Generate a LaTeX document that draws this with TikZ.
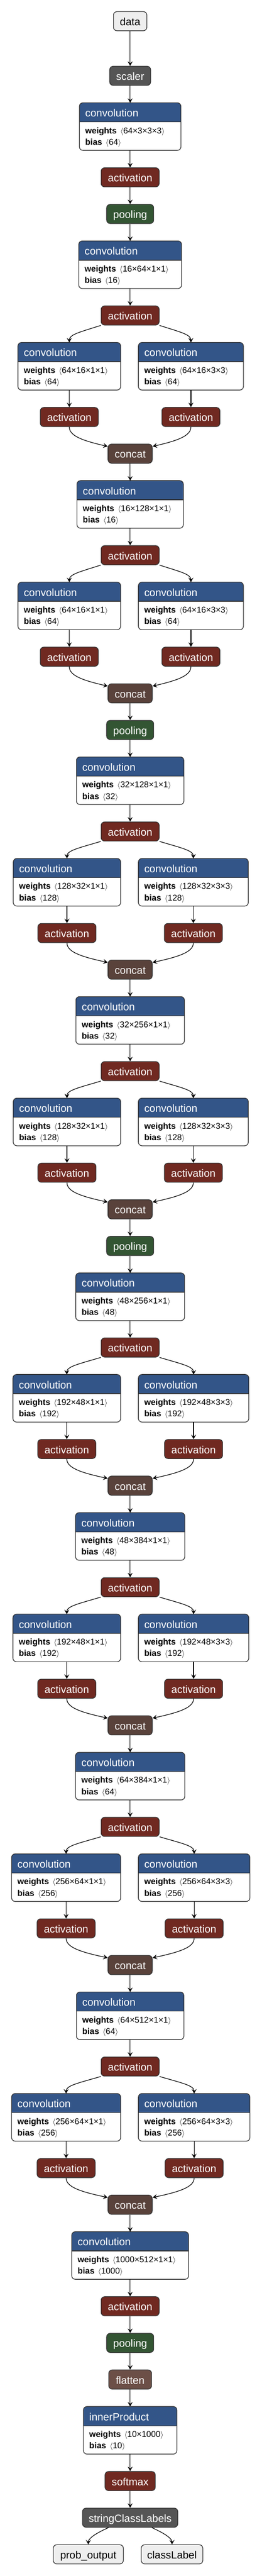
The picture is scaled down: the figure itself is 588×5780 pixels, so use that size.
\documentclass[tikz,border=0pt]{standalone}
\usepackage{fontspec}
\setmainfont{Liberation Sans}
\usetikzlibrary{arrows.meta,calc}
\definecolor{bd}{HTML}{333333}
\definecolor{layerc}{RGB}{51,85,136}
\definecolor{actc}{RGB}{112,41,33}
\definecolor{poolc}{RGB}{51,85,51}
\definecolor{tensorc}{RGB}{89,66,59}
\definecolor{shapec}{RGB}{108,79,71}
\definecolor{datac}{RGB}{85,85,85}
\definecolor{ioc}{HTML}{EEEEEE}
\newcommand{\ttlfont}{\fontsize{23.6pt}{28pt}\selectfont}
\newcommand{\bdyfont}{\fontsize{19pt}{23pt}\selectfont}
\tikzset{
 sn/.style={draw=bd, line width=1.5pt, rounded corners=8pt, minimum height=43pt, inner sep=0pt, text=white, font=\ttlfont, text height=19.5pt, text depth=0pt},
 actn/.style={sn, fill=actc, minimum width=130.5pt},
 pooln/.style={sn, fill=poolc, minimum width=105.75pt},
 catn/.style={sn, fill=tensorc, minimum width=99.4pt},
 ion/.style={sn, fill=ioc, text=black},
 edge/.style={line width=1.4pt, -{Stealth[length=10pt,width=11pt,inset=4pt]}},
 cvbox/.style={fill=white, minimum height=106.4pt, inner sep=0pt, rounded corners=8pt},
 hdrline/.style={draw=bd, line width=1.5pt},
}
\newcommand{\convbox}[7]{%
 \node[cvbox, minimum width=#4pt] (#1) at (#2,#3) {};
 \begin{scope}
  \clip (#1.north west) rectangle ($(#1.north east)+(0,-43pt)$);
  \fill[layerc, rounded corners=8pt] (#1.north west) rectangle (#1.south east);
 \end{scope}
 \draw[hdrline] ($(#1.north west)+(0,-43pt)$) -- ($(#1.north east)+(0,-43pt)$);
 \draw[hdrline, rounded corners=8pt] (#1.north west) rectangle (#1.south east);
 \node[anchor=base west, inner sep=0pt, text=white, font=\ttlfont] at ($(#1.north west)+(13pt,-31.4pt)$) {#5};
 \node[anchor=base west, inner sep=0pt, font=\bdyfont] at ($(#1.north west)+(13pt,-68.9pt)$) {\textbf{weights}\hspace{8pt}$\langle$#6$\rangle$};
 \node[anchor=base west, inner sep=0pt, font=\bdyfont] at ($(#1.north west)+(13pt,-94.6pt)$) {\textbf{bias}\hspace{8pt}$\langle$#7$\rangle$};
}
\newcommand{\splitL}[2]{\draw[edge] let \p1=(#1.south west), \p2=(#2.north) in (\p1) .. controls ({\x2+0.34*(\x1-\x2)},{\y1-15pt}) and (\x2,{\y2+18pt}) .. (\p2);}
\newcommand{\splitR}[2]{\draw[edge] let \p1=(#1.south east), \p2=(#2.north) in (\p1) .. controls ({\x2+0.34*(\x1-\x2)},{\y1-15pt}) and (\x2,{\y2+18pt}) .. (\p2);}
\newcommand{\mergeL}[2]{\draw[edge] let \p1=(#1.south), \p2=($(#2.north west)+(0,-6pt)$) in (\p1) .. controls (\x1,{\y1-20pt}) and ({\x1+0.34*(\x2-\x1)},{\y2+13pt}) .. (\p2);}
\newcommand{\mergeR}[2]{\draw[edge] let \p1=(#1.south), \p2=($(#2.north east)+(0,-6pt)$) in (\p1) .. controls (\x1,{\y1-20pt}) and ({\x1+0.34*(\x2-\x1)},{\y2+13pt}) .. (\p2);}
% #1 id, #2 y of squeeze centre, #3 squeeze width, #4 squeeze weights, #5 squeeze bias,
% #6 expand prefix, #7 expand bias, #8 left width, #9 right width
\newcommand{\firemod}[9]{%
 \convbox{#1s}{292.3}{#2}{#3}{convolution}{#4}{#5}
 \node[actn] (#1a) at (292.3,#2+113.9) {activation};
 \convbox{#1l}{270.75-#8/2}{#2+227.8}{#8}{convolution}{#6×1×1}{#7}
 \convbox{#1r}{311+#9/2}{#2+227.8}{#9}{convolution}{#6×3×3}{#7}
 \node[actn] (#1la) at (270.75-#8/2,#2+341.7) {activation};
 \node[actn] (#1ra) at (311+#9/2,#2+341.7) {activation};
 \node[catn] (#1c) at (292.3,#2+423.9) {concat};
 \draw[edge] (#1s.south) -- (#1a.north);
 \splitL{#1a}{#1l}
 \splitR{#1a}{#1r}
 \draw[edge] (#1l.south) -- (#1la.north);
 \draw[edge] (#1r.south) -- (#1ra.north);
 \mergeL{#1la}{#1c}
 \mergeR{#1ra}{#1c}
}
\begin{document}
\begin{tikzpicture}[x=1pt,y=-1pt]
\fill[white] (0,0) rectangle (588,5780);
\useasboundingbox (0,0) rectangle (588,5780);
\node[ion, minimum width=75pt] (data) at (292.3,47.5) {data};
\node[sn, fill=datac, minimum width=92pt] (scaler) at (292.3,170.1) {scaler};
\convbox{c1}{292.3}{284.0}{227.6}{convolution}{64×3×3×3}{64}
\node[actn] (a1) at (292.3,397.9) {activation};
\node[pooln] (p1) at (292.3,480.1) {pooling};
\firemod{f2}{594.0}{230.6}{16×64×1×1}{16}{64×16}{64}{230.25}{235.5}
\firemod{f3}{1131.8}{238.5}{16×128×1×1}{16}{64×16}{64}{230.25}{235.5}
\node[pooln] (p2) at (292.3,1637.9) {pooling};
\firemod{f4}{1751.8}{241}{32×128×1×1}{32}{128×32}{128}{240.75}{246.4}
\firemod{f5}{2289.6}{243.4}{32×256×1×1}{32}{128×32}{128}{240.75}{246.4}
\node[pooln] (p3) at (292.3,2795.7) {pooling};
\firemod{f6}{2909.6}{244}{48×256×1×1}{48}{192×48}{192}{241.5}{247.5}
\firemod{f7}{3447.4}{245}{48×384×1×1}{48}{192×48}{192}{241.5}{247.5}
\firemod{f8}{3985.2}{245}{64×384×1×1}{64}{256×64}{256}{244.5}{250}
\firemod{f9}{4523.0}{241}{64×512×1×1}{64}{256×64}{256}{244.5}{250}
\convbox{c10}{292.3}{5060.8}{262}{convolution}{1000×512×1×1}{1000}
\node[actn] (a10) at (292.3,5174.7) {activation};
\node[pooln] (p10) at (292.3,5256.9) {pooling};
\node[sn, fill=shapec, minimum width=96.4pt] (fl) at (292.3,5339.1) {flatten};
\convbox{ip}{292.3}{5453.0}{209.5}{innerProduct}{10×1000}{10}
\node[sn, fill=actc, minimum width=113pt] (sm) at (292.3,5566.9) {softmax};
\node[sn, fill=datac, minimum width=214pt] (scl) at (292.3,5649.1) {stringClassLabels};
\node[ion, minimum width=157.5pt] (po) at (198.3,5731.3) {prob\_output};
\node[ion, minimum width=138.4pt] (cl) at (386.3,5731.3) {classLabel};
\draw[edge] (data.south) -- (scaler.north);
\draw[edge] (scaler.south) -- (c1.north);
\draw[edge] (c1.south) -- (a1.north);
\draw[edge] (a1.south) -- (p1.north);
\draw[edge] (p1.south) -- (f2s.north);
\draw[edge] (f2c.south) -- (f3s.north);
\draw[edge] (f3c.south) -- (p2.north);
\draw[edge] (p2.south) -- (f4s.north);
\draw[edge] (f4c.south) -- (f5s.north);
\draw[edge] (f5c.south) -- (p3.north);
\draw[edge] (p3.south) -- (f6s.north);
\draw[edge] (f6c.south) -- (f7s.north);
\draw[edge] (f7c.south) -- (f8s.north);
\draw[edge] (f8c.south) -- (f9s.north);
\draw[edge] (f9c.south) -- (c10.north);
\draw[edge] (c10.south) -- (a10.north);
\draw[edge] (a10.south) -- (p10.north);
\draw[edge] (p10.south) -- (fl.north);
\draw[edge] (fl.south) -- (ip.north);
\draw[edge] (ip.south) -- (sm.north);
\draw[edge] (sm.south) -- (scl.north);
\draw[edge] ($(scl.south)+(-48.75pt,0)$) .. controls ($(po.north)+(16.7pt,24.7pt)$) and ($(po.north)+(0,13.7pt)$) .. (po.north);
\draw[edge] ($(scl.south)+(48.75pt,0)$) .. controls ($(cl.north)+(-16.8pt,24.7pt)$) and ($(cl.north)+(0,13.7pt)$) .. (cl.north);
\end{tikzpicture}
\end{document}
